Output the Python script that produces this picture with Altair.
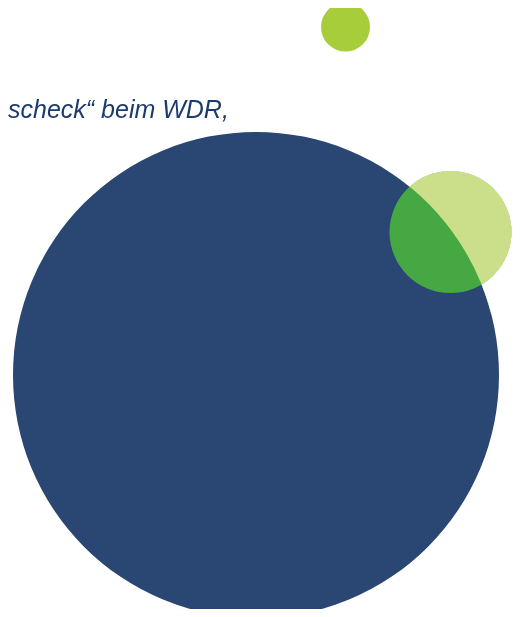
import math
import pandas as pd
import altair as alt

# Circles (positions in chart units, radius in px)
circle_name = ["gross", "mittel", "klein"]
circle_x = [256, 450.5, 345.5]
circle_y = [375, 232, 27]
circle_r = [243, 61, 24.5]
circle_color = ["#2a4673", "#45a843", "#a8cd3a"]
outside_color = "#cbdf8b"  # part of the middle circle outside the big one

label_text = ["scheck\u201c beim WDR,"]
label_x = [8]
label_y = [118]

X_DOMAIN = [8, 513]
Y_DOMAIN = [8, 609]

circles = pd.DataFrame({
    "name": circle_name,
    "x": circle_x,
    "y": circle_y,
    "r": circle_r,
    "color": circle_color,
})
# Vega symbol size is the area of the bounding square of the circle
circles["size"] = (2 * circles["r"]) ** 2

# ring that lightens the part of the middle circle lying outside the big circle
dx = circle_x[1] - circle_x[0]
dy = circle_y[1] - circle_y[0]
dist = math.hypot(dx, dy)
ang = math.atan2(dx, -dy)
half = math.asin(min(1.0, circle_r[1] / dist)) + 0.12
ring = pd.DataFrame({
    "x": [circle_x[0]],
    "y": [circle_y[0]],
    "r0": [circle_r[0]],
    "r1": [dist + circle_r[1] + 20],
    "t0": [ang - half],
    "t1": [ang + half],
    "color": [outside_color],
})

labels = pd.DataFrame({"text": label_text, "x": label_x, "y": label_y})

xs = alt.Scale(domain=X_DOMAIN, nice=False, zero=False)
ys = alt.Scale(domain=Y_DOMAIN, nice=False, zero=False, reverse=True)

X = alt.X("x:Q", scale=xs, axis=None)
Y = alt.Y("y:Q", scale=ys, axis=None)

main = alt.Chart(circles.iloc[:2]).mark_circle(opacity=1, strokeWidth=0).encode(
    x=X, y=Y,
    size=alt.Size("size:Q", scale=None),
    color=alt.Color("color:N", scale=None),
)

ring_layer = alt.Chart(ring).mark_arc(blend="lighten").encode(
    x=X, y=Y,
    theta=alt.Theta("t0:Q", scale=None),
    theta2="t1:Q",
    radius=alt.Radius("r0:Q", scale=None),
    radius2="r1:Q",
    color=alt.Color("color:N", scale=None),
)

top = alt.Chart(circles.iloc[2:]).mark_circle(opacity=1, strokeWidth=0).encode(
    x=X, y=Y,
    size=alt.Size("size:Q", scale=None),
    color=alt.Color("color:N", scale=None),
)

text = alt.Chart(labels).mark_text(
    align="left", baseline="alphabetic", fontSize=25, fontStyle="italic",
    font="Liberation Sans", color="#1c3a6c",
).encode(x=X, y=Y, text="text:N")

chart = alt.layer(main, ring_layer, top, text).properties(
    width=505, height=601, padding=0, background="white",
    autosize=alt.AutoSizeParams(type="none"),
).configure_view(stroke=None)

chart.save("out.html", embed_options={"renderer": "svg", "actions": False})
